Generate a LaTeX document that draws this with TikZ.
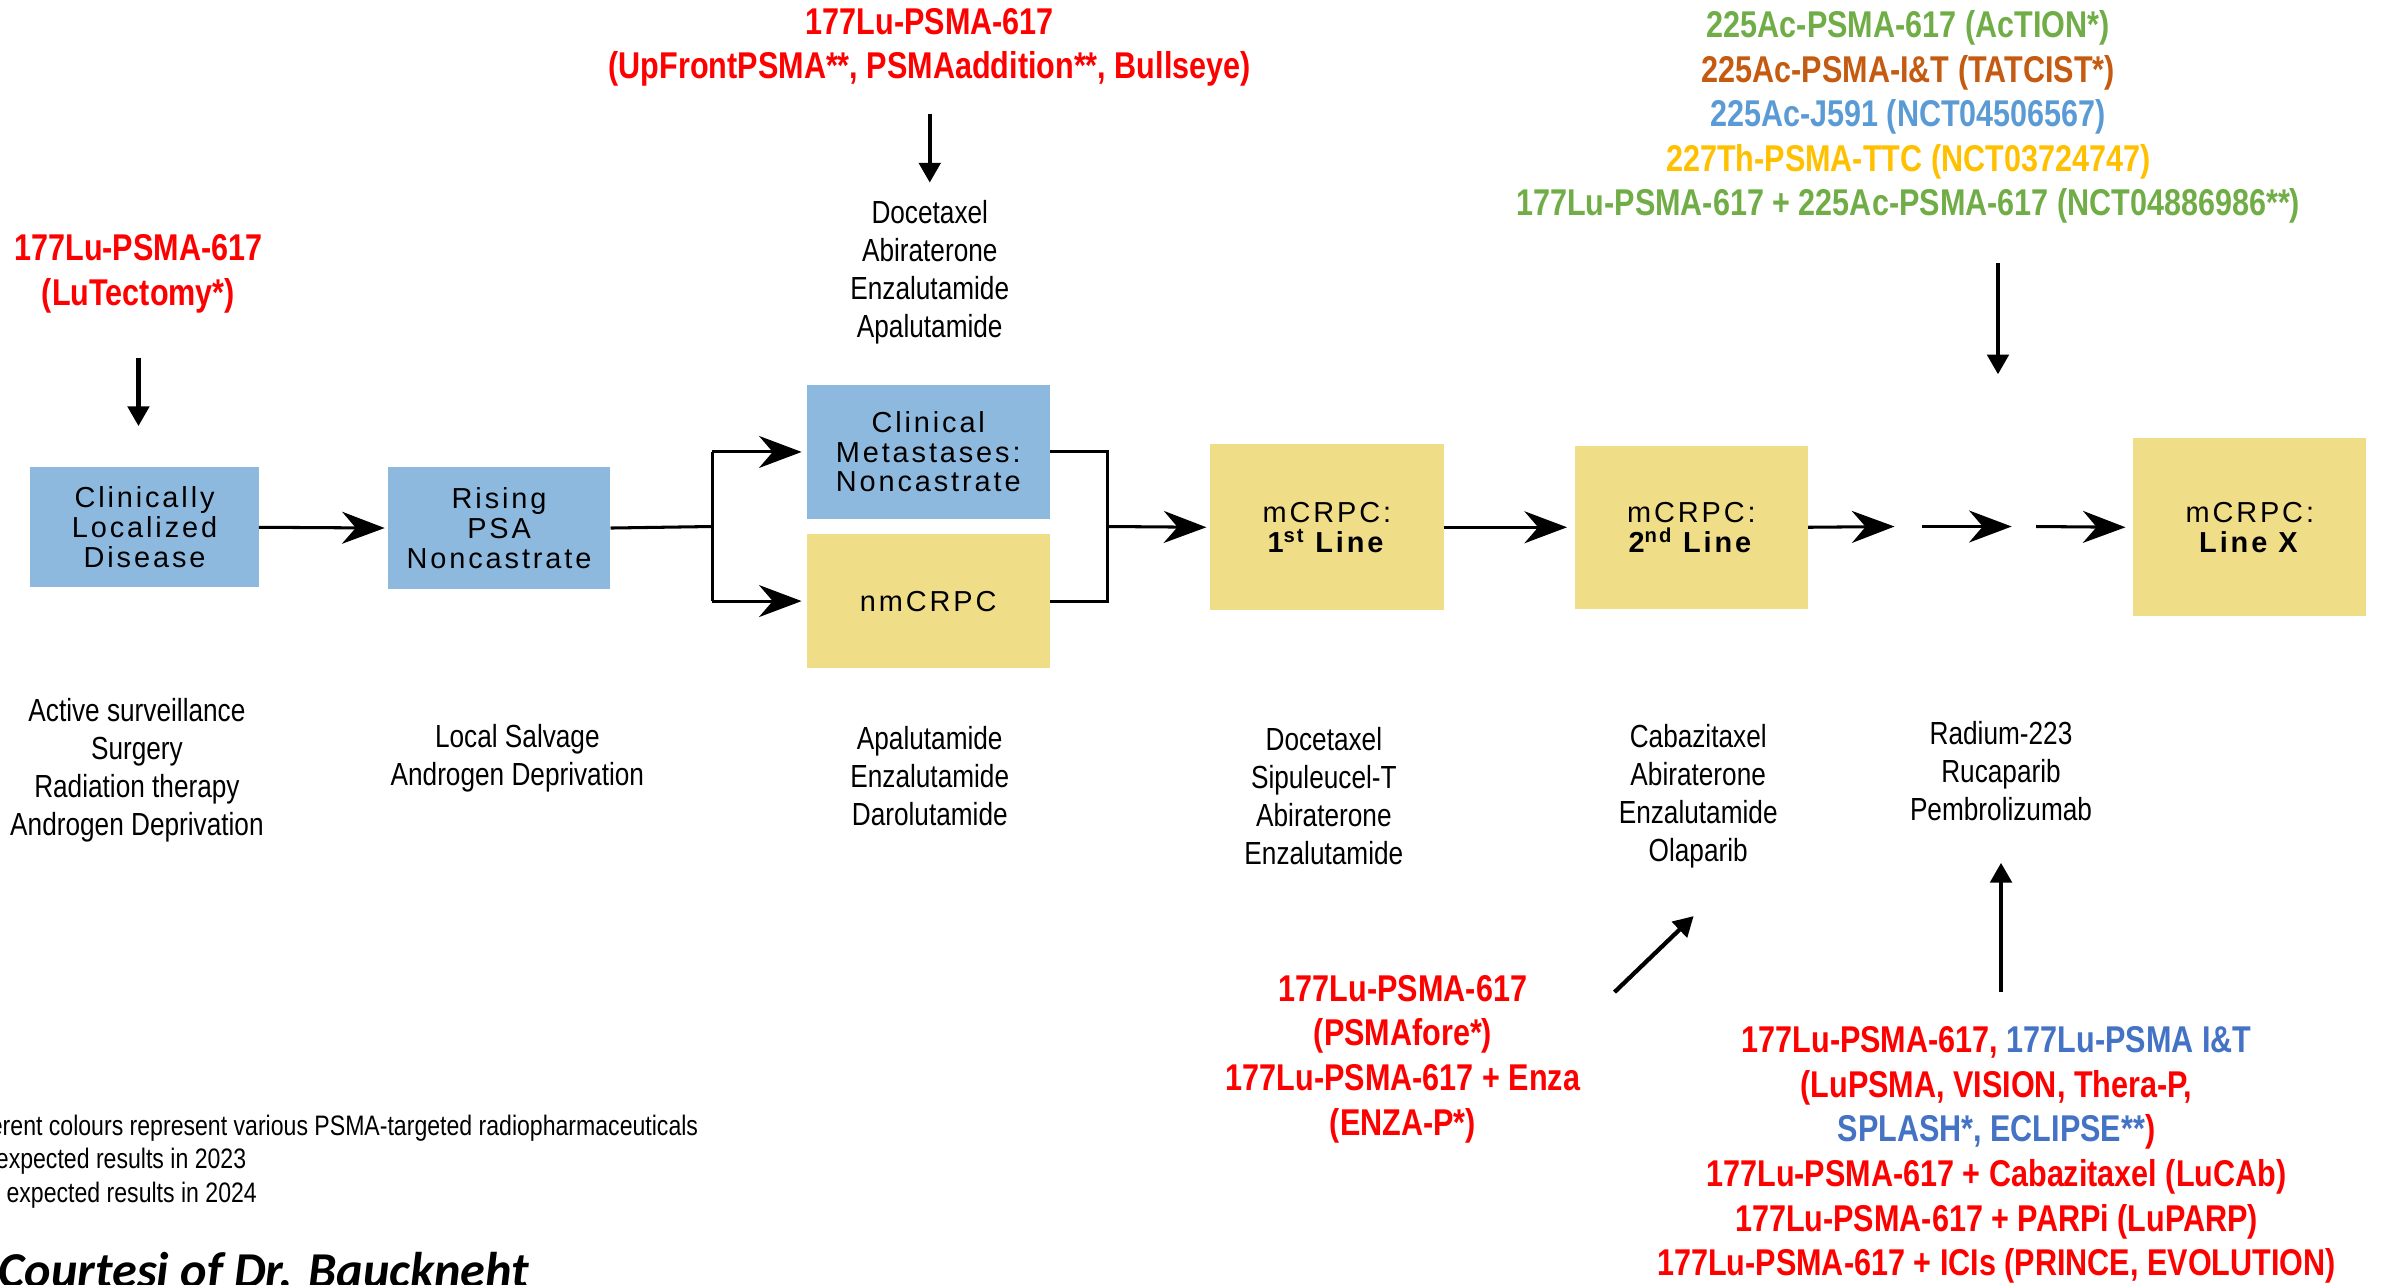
\documentclass[tikz,border=0pt]{standalone}
\usepackage{fontspec}
\setmainfont{Liberation Sans}
\newfontfamily\narrowf[FakeStretch=0.82]{Liberation Sans}
\newfontfamily\boxfont[LetterSpace=10]{Liberation Sans}
\newfontfamily\courtfont{Carlito}
\usetikzlibrary{arrows.meta}

\definecolor{boxblue}{HTML}{8EB9DF}
\definecolor{boxyellow}{HTML}{F0DD88}
\definecolor{trialred}{HTML}{FF0000}
\definecolor{acgreen}{HTML}{70AD47}
\definecolor{acorange}{HTML}{C55A11}
\definecolor{jblue}{HTML}{5B9BD5}
\definecolor{thgold}{HTML}{FFC000}
\definecolor{itblue}{HTML}{4472C4}

\tikzset{
  stage/.style={rectangle, inner sep=0pt, align=center,
    font=\boxfont\fontsize{19}{19.5}\selectfont},
  bluestage/.style={stage, fill=boxblue},
  yellowstage/.style={stage, fill=boxyellow},
  flow/.style={line width=2pt, -{Stealth[length=28pt,width=21pt,inset=9pt]}},
  joint/.style={line width=2pt},
  pointer/.style={line width=2.8pt, -{Triangle[length=13pt,width=14pt]}},
  drugs/.style={align=center, inner sep=0pt,
    font=\narrowf\fontsize{21}{25}\selectfont},
  trials/.style={align=center, inner sep=0pt,
    font=\narrowf\bfseries\fontsize{24.5}{29.3}\selectfont},
  legend/.style={inner sep=0pt, font=\narrowf\fontsize{18.5}{22}\selectfont},
}

\begin{document}
\begin{tikzpicture}[x=1pt,y=-1pt]
\useasboundingbox (0,0) rectangle (1568,844);
\clip (0,0) rectangle (1568,844);

% disease stages
\node[bluestage, minimum width=150pt, minimum height=79pt] (b1) at (95,346.5) {Clinically\\Localized\\Disease};
\node[bluestage, minimum width=146pt, minimum height=80pt] (b2) at (328,347) {Rising\\PSA\\Noncastrate};
\node[bluestage, minimum width=160pt, minimum height=88pt] (b3) at (610,297) {Clinical\\Metastases:\\Noncastrate};
\node[yellowstage, minimum width=160pt, minimum height=88pt] (b4) at (610,395) {nmCRPC};
\node[yellowstage, minimum width=154pt, minimum height=109pt] (b5) at (872,346.5) {mCRPC:\\\textbf{1\textsuperscript{st} Line}};
\node[yellowstage, minimum width=153pt, minimum height=107pt] (b6) at (1111.5,346.5) {mCRPC:\\\textbf{2\textsuperscript{nd} Line}};
\node[yellowstage, minimum width=153pt, minimum height=117pt] (b7) at (1478.5,346.5) {mCRPC:\\\textbf{Line X}};

% flow between stages
\coordinate (split) at (468,346);
\coordinate (merge) at (728,346);
\coordinate (d1s) at (1263,346);
\coordinate (d1e) at (1322,346);
\coordinate (d2s) at (1338,346);
\coordinate (d2e) at (1245,346);

\draw[flow] (b1.east) -- ([xshift=-2pt]b2.west);
\draw[joint] (b2.east) -- (split);
\draw[joint] (split |- b3.west) -- (split |- b4.west);
\draw[flow] (split |- b3.west) -- ([xshift=-3pt]b3.west);
\draw[flow] (split |- b4.west) -- ([xshift=-3pt]b4.west);
\draw[joint] (b3.east) -- (merge |- b3.east) -- (merge |- b4.east) -- (b4.east);
\draw[flow] (merge) -- ([xshift=-2pt]b5.west);
\draw[flow] (b5.east) -- ([xshift=-5pt]b6.west);
\draw[flow] (b6.east) -- (d2e);
\draw[flow] (d1s) -- (d1e);
\draw[flow] (d2s) -- ([xshift=-5pt]b7.west);

% treatments under each stage
\node[drugs] (t1) at (90,506) {Active surveillance\\Surgery\\Radiation therapy\\Androgen Deprivation};
\node[drugs] (t2) at (340,498) {Local Salvage\\Androgen Deprivation};
\node[drugs] (t3) at (611,510) {Apalutamide\\Enzalutamide\\Darolutamide};
\node[drugs] (t4) at (870,523) {Docetaxel\\Sipuleucel-T\\Abiraterone\\Enzalutamide};
\node[drugs] (t5) at (1116,523) {Cabazitaxel\\Abiraterone\\Enzalutamide\\Olaparib};
\node[drugs] (t6) at (1315,507) {Radium-223\\Rucaparib\\Pembrolizumab};
\node[drugs] (t7) at (611,179) {Docetaxel\\Abiraterone\\Enzalutamide\\Apalutamide};

% radioligand trials
\node[trials, text=trialred] (r1) at (91,180) {177Lu-PSMA-617\\(LuTectomy*)};
\node[trials, text=trialred] (r2) at (611,31) {177Lu-PSMA-617\\(UpFrontPSMA**, PSMAaddition**, Bullseye)};
\node[trials] (r3) at (1254,77) {%
  \textcolor{acgreen}{225Ac-PSMA-617 (AcTION*)}\\
  \textcolor{acorange}{225Ac-PSMA-I\&T (TATCIST*)}\\
  \textcolor{jblue}{225Ac-J591 (NCT04506567)}\\
  \textcolor{thgold}{227Th-PSMA-TTC (NCT03724747)}\\
  \textcolor{acgreen}{177Lu-PSMA-617 + 225Ac-PSMA-617 (NCT04886986**)}};
\node[trials, text=trialred] (r4) at (922,696) {177Lu-PSMA-617\\(PSMAfore*)\\177Lu-PSMA-617 + Enza\\(ENZA-P*)};
\node[trials, text=trialred] (r5) at (1312,759) {%
  177Lu-PSMA-617, \textcolor{itblue}{177Lu-PSMA I\&T}\\
  (LuPSMA, VISION, Thera-P,\\
  \textcolor{itblue}{SPLASH*, ECLIPSE**})\\
  177Lu-PSMA-617 + Cabazitaxel (LuCAb)\\
  177Lu-PSMA-617 + PARPi (LuPARP)\\
  177Lu-PSMA-617 + ICIs (PRINCE, EVOLUTION)};

% pointers from trials to treatment lines
\coordinate (p1s) at (91,235);   \coordinate (p1e) at (91,280);
\coordinate (p2s) at (611,75);   \coordinate (p2e) at (611,120);
\coordinate (p3s) at (1313,173); \coordinate (p3e) at (1313,246);
\coordinate (p4s) at (1315,652); \coordinate (p4e) at (1315,567);
\coordinate (p5s) at (1061,652); \coordinate (p5e) at (1113,602);
\draw[pointer] (p1s) -- (p1e);
\draw[pointer] (p2s) -- (p2e);
\draw[pointer] (p3s) -- (p3e);
\draw[pointer] (p4s) -- (p4e);
\draw[pointer] (p5s) -- (p5e);

% key
\node[legend, anchor=base east] (k1) at (459,746) {Different colours represent various PSMA-targeted radiopharmaceuticals};
\node[legend, anchor=base east] (k2) at (162,768) {* = expected results in 2023};
\node[legend, anchor=base east] (k3) at (169,790) {** = expected results in 2024};

\node[anchor=base west, inner sep=0pt,
  font=\courtfont\bfseries\itshape\fontsize{33}{39}\selectfont] (court) at (-1,846) {Courtesi of Dr. Bauckneht};
\end{tikzpicture}
\end{document}
